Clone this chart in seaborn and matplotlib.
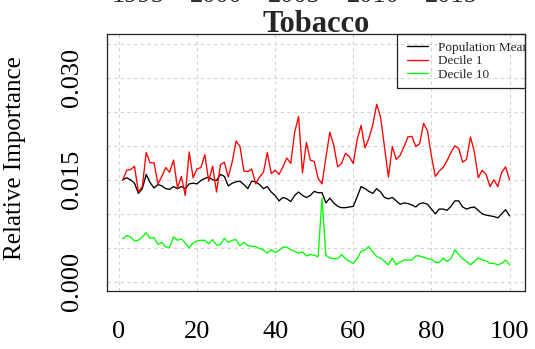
import numpy as np
import pandas as pd
import matplotlib
matplotlib.use("Agg")
import matplotlib.pyplot as plt
import matplotlib.transforms as mtransforms
from matplotlib.patches import Rectangle
import seaborn as sns

# ---------------- data ----------------
index = list(range(1, 101))

population_mean = [
    0.0150, 0.0153, 0.0150, 0.0145, 0.0130, 0.0137, 0.0158, 0.0146, 0.0138, 0.0143,
    0.0141, 0.0137, 0.0136, 0.0140, 0.0137, 0.0140, 0.0137, 0.0144, 0.0145, 0.0144,
    0.0149, 0.0152, 0.0154, 0.0150, 0.0149, 0.0158, 0.0155, 0.0141, 0.0145, 0.0147,
    0.0148, 0.0143, 0.0137, 0.0148, 0.0147, 0.0143, 0.0137, 0.0140, 0.0132, 0.0127,
    0.0119, 0.0124, 0.0122, 0.0118, 0.0127, 0.0132, 0.0127, 0.0124, 0.0127, 0.0133,
    0.0131, 0.0131, 0.0116, 0.0123, 0.0116, 0.0111, 0.0109, 0.0109, 0.0110, 0.0111,
    0.0125, 0.0140, 0.0137, 0.0133, 0.0130, 0.0137, 0.0132, 0.0124, 0.0122, 0.0124,
    0.0119, 0.0114, 0.0116, 0.0115, 0.0113, 0.0110, 0.0115, 0.0116, 0.0114, 0.0107,
    0.0100, 0.0107, 0.0107, 0.0105, 0.0111, 0.0119, 0.0119, 0.0110, 0.0107, 0.0109,
    0.0110, 0.0105, 0.0100, 0.0098, 0.0097, 0.0096, 0.0094, 0.0100, 0.0106, 0.0097,
]

decile_1 = [
    0.0150, 0.0164, 0.0165, 0.0170, 0.0132, 0.0140, 0.0190, 0.0175, 0.0175, 0.0144,
    0.0155, 0.0168, 0.0161, 0.0179, 0.0138, 0.0155, 0.0127, 0.0191, 0.0153, 0.0166,
    0.0168, 0.0187, 0.0148, 0.0170, 0.0132, 0.0172, 0.0176, 0.0154, 0.0176, 0.0207,
    0.0199, 0.0163, 0.0162, 0.0166, 0.0144, 0.0154, 0.0161, 0.0190, 0.0159, 0.0164,
    0.0158, 0.0169, 0.0182, 0.0174, 0.0220, 0.0243, 0.0160, 0.0205, 0.0179, 0.0177,
    0.0152, 0.0144, 0.0183, 0.0220, 0.0201, 0.0169, 0.0174, 0.0189, 0.0184, 0.0174,
    0.0209, 0.0230, 0.0197, 0.0211, 0.0231, 0.0261, 0.0242, 0.0198, 0.0154, 0.0199,
    0.0180, 0.0186, 0.0199, 0.0213, 0.0214, 0.0199, 0.0203, 0.0233, 0.0222, 0.0185,
    0.0155, 0.0163, 0.0168, 0.0178, 0.0190, 0.0200, 0.0196, 0.0176, 0.0180, 0.0213,
    0.0191, 0.0153, 0.0164, 0.0158, 0.0140, 0.0150, 0.0140, 0.0161, 0.0169, 0.0150,
]

decile_10 = [
    0.0063, 0.0068, 0.0066, 0.0060, 0.0061, 0.0066, 0.0072, 0.0064, 0.0065, 0.0055,
    0.0058, 0.0051, 0.0051, 0.0066, 0.0061, 0.0063, 0.0057, 0.0050, 0.0057, 0.0060,
    0.0061, 0.0061, 0.0056, 0.0062, 0.0054, 0.0055, 0.0064, 0.0058, 0.0061, 0.0062,
    0.0053, 0.0058, 0.0053, 0.0052, 0.0052, 0.0049, 0.0047, 0.0042, 0.0047, 0.0043,
    0.0046, 0.0051, 0.0051, 0.0047, 0.0045, 0.0042, 0.0044, 0.0038, 0.0040, 0.0039,
    0.0037, 0.0123, 0.0039, 0.0035, 0.0034, 0.0034, 0.0040, 0.0034, 0.0030, 0.0027,
    0.0034, 0.0045, 0.0047, 0.0052, 0.0044, 0.0037, 0.0035, 0.0030, 0.0025, 0.0035,
    0.0025, 0.0029, 0.0032, 0.0032, 0.0032, 0.0038, 0.0038, 0.0036, 0.0034, 0.0033,
    0.0029, 0.0028, 0.0035, 0.0030, 0.0034, 0.0047, 0.0040, 0.0034, 0.0030, 0.0025,
    0.0030, 0.0035, 0.0032, 0.0031, 0.0027, 0.0027, 0.0025, 0.0027, 0.0032, 0.0025,
]

series_names = ["Population Mean", "Decile 1", "Decile 10"]
series_colors = ["#000000", "#FF0000", "#00FF00"]

xticks = [0, 20, 40, 60, 80, 100]
yticks = [0.000, 0.005, 0.010, 0.015, 0.020, 0.025, 0.030, 0.035]
ytick_labels = ["0.000", "", "", "0.015", "", "", "0.030", ""]

title = "Tobacco"
ylabel = "Relative Importance"

# labels of a neighbouring panel, cut off at the top edge
top_years = ["1995", "2000", "2005", "2010", "2015"]
top_year_x = [5, 25, 45, 65, 85]

# ---------------- build ----------------
df = pd.concat([
    pd.DataFrame({"idx": index, "value": vals, "series": name})
    for name, vals in zip(series_names, [population_mean, decile_1, decile_10])
], ignore_index=True)

sns.set_style("white")
plt.rcParams["font.family"] = ["Liberation Serif", "DejaVu Serif"]

W, H = 535, 349
fig = plt.figure(figsize=(W / 100, H / 100), dpi=100)
L, R, T, B = 107.3, 525.0, 34.3, 291.3
ax = fig.add_axes([L / W, 1 - B / H, (R - L) / W, (B - T) / H])

sns.lineplot(data=df, x="idx", y="value", hue="series", hue_order=series_names,
             palette=dict(zip(series_names, series_colors)), linewidth=0.95,
             legend=False, ax=ax, zorder=3)

ax.set_xlim(1 - 0.04 * 99, 100 + 0.04 * 99)
ax.set_ylim(-0.04 * 0.035, 0.035 * 1.04)

ax.set_xticks(xticks)
ax.set_xticklabels([str(v) for v in xticks])
ax.set_yticks(yticks)
ax.set_yticklabels(ytick_labels)

ax.grid(True, color="#d3d3d3", linestyle=(0, (3, 3)), linewidth=0.8, zorder=0)
ax.set_axisbelow(True)

ax.tick_params(axis="both", direction="out", length=9.2, width=0.8,
               color="#222222", labelsize=19, labelcolor="black")
ax.tick_params(axis="x", pad=12)
ax.tick_params(axis="y", pad=8.5)
for lbl in ax.get_yticklabels():
    lbl.set_rotation(90)
    lbl.set_va("center")
    lbl.set_ha("right")

for sp in ax.spines.values():
    sp.set_visible(True)
    sp.set_color("#222222")
    sp.set_linewidth(0.9)

ax.set_xlabel("")
ax.set_ylabel(ylabel, fontsize=18, color="black")
ax.yaxis.set_label_coords((25.5 - L) / (R - L), (B - 158.3) / (B - T))

ax.set_title(title, fontsize=22, fontweight="bold", pad=2)

# legend
handles = ax.get_lines()[:3]
leg = ax.legend(handles, series_names, loc="upper left",
                bbox_to_anchor=((406.7 - L) / (R - L), (B - 41.7) / (B - T)),
                borderaxespad=0, borderpad=0, frameon=False, fontsize=9.5,
                handlelength=1.65, handletextpad=0.7, labelspacing=0.1)
for t in leg.get_texts():
    t.set_clip_on(True)
    t.set_clip_box(ax.bbox)
ax.add_patch(Rectangle(((397 - L) / (R - L), (B - 87.5) / (B - T)),
                       (R - 397) / (R - L), (87.5 - T) / (B - T),
                       transform=ax.transAxes, fill=False, edgecolor="#222222",
                       linewidth=0.9, zorder=5, clip_on=False))

trans = mtransforms.blended_transform_factory(ax.transData, fig.transFigure)
for xv, yr in zip(top_year_x, top_years):
    fig.text(xv, 1 - 2.5 / H, yr, transform=trans, ha="center", va="baseline",
             fontsize=19)

fig.savefig("out.png", dpi=100)
